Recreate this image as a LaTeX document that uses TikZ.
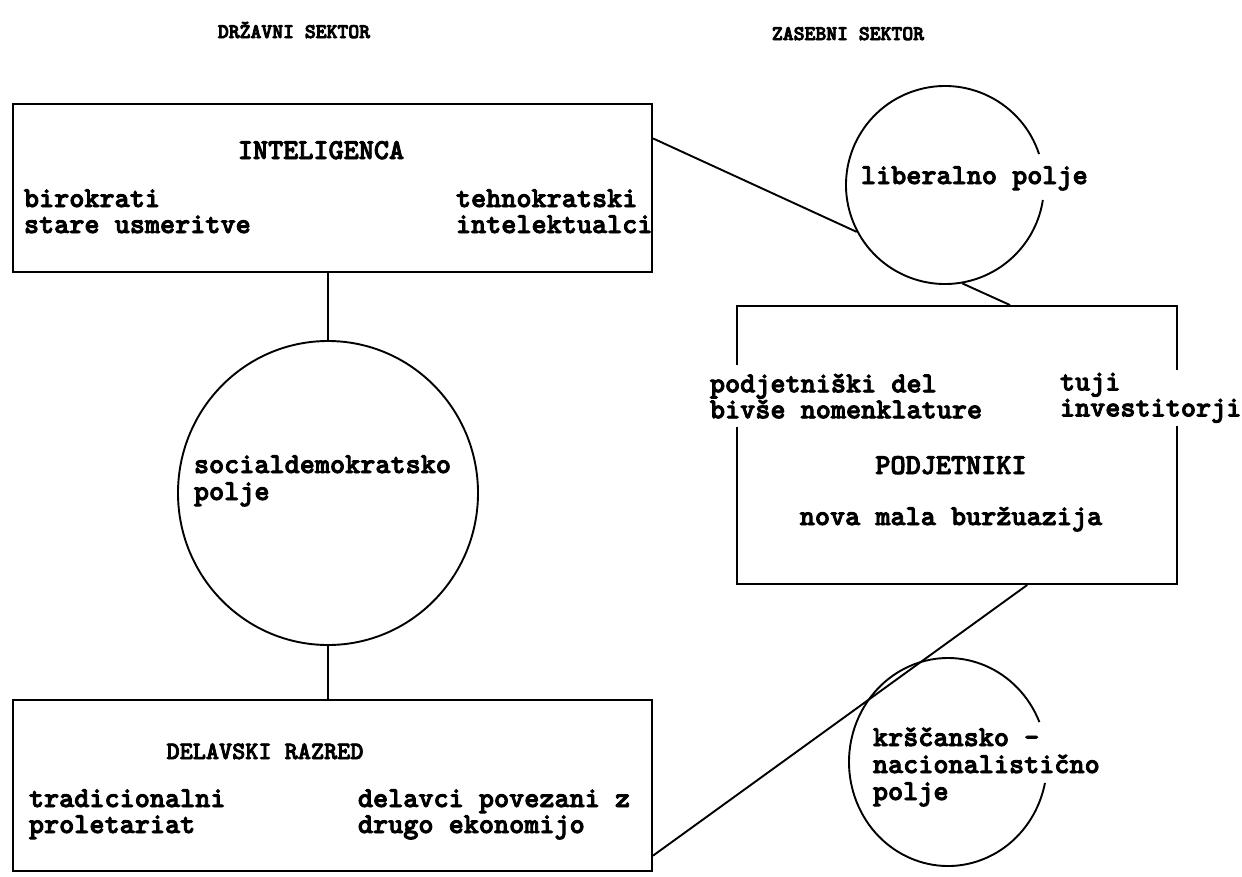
\documentclass[tikz,border=0pt]{standalone}
\usepackage{fontspec}
\newfontfamily\cour{lmmonolt10-bold.otf}[FakeBold=3]
\newfontfamily\courh{lmmonolt10-bold.otf}[FakeBold=4]
\usetikzlibrary{calc,shapes.geometric}
\begin{document}
\begin{tikzpicture}[x=1pt,y=-1pt,line width=1.9pt,
  shapebox/.style={draw,rectangle,inner sep=0pt},
  ring/.style={draw,ellipse,inner sep=0pt},
  txt/.style={inner sep=0pt,font=\cour\fontsize{28.8}{26}\selectfont},
  head/.style={inner sep=0pt,font=\courh\fontsize{20.7}{24}\selectfont},
  gap/.style={txt,fill=white}]
\useasboundingbox (0,0) rectangle (1242,876);
% headings
\node[head,anchor=base] (h1) at (294,38) {DRŽAVNI SEKTOR};
\node[head,anchor=base] (h2) at (848,40) {ZASEBNI SEKTOR};
% shapes
\node[shapebox,minimum width=639pt,minimum height=168pt] (intel) at (332.5,188) {};
\node[ring,minimum width=300pt,minimum height=304pt] (soc) at (328,493) {};
\node[shapebox,minimum width=639pt,minimum height=171pt] (dela) at (332.5,785.5) {};
\node[ring,draw=none,minimum width=198pt,minimum height=198pt] (lib) at (945,185) {};
\draw ([shift={(18.2:99pt and 99pt)}]lib.center) arc[start angle=18.2,end angle=351.3,x radius=99pt,y radius=99pt];
\node[shapebox,minimum width=440pt,minimum height=278pt] (podj) at (957,445) {};
\node[ring,draw=none,minimum width=198pt,minimum height=208pt] (krs) at (948,762) {};
\draw ([shift={(22.6:99pt and 104pt)}]krs.center) arc[start angle=22.6,end angle=348.4,x radius=99pt,y radius=104pt];
% connectors
\draw (soc.north |- intel.south) -- (soc.north);
\draw (soc.south) -- (soc.south |- dela.north);
\draw ($(intel.north east)!0.208!(intel.south east)$) -- (lib.208);
\draw (lib.280) -- ($(podj.north west)!0.62!(podj.north east)$);
\draw ($(podj.south west)!0.659!(podj.south east)$) -- ($(dela.north east)!0.906!(dela.south east)$);
% texts in INTELIGENCA
\node[txt,anchor=base] (t1) at (321,159) {INTELIGENCA};
\node[txt,anchor=base west] (t2) at (23,207) {birokrati};
\node[txt,anchor=base west] (t3) at (23,233) {stare usmeritve};
\node[txt,anchor=base west] (t4) at (455,207) {tehnokratski};
\node[txt,anchor=base west] (t5) at (455,233) {intelektualci};
% socialdemokratsko
\node[txt,anchor=base west] (t6) at (193,473) {socialdemokratsko};
\node[txt,anchor=base west] (t7) at (193,500) {polje};
% delavski razred
\node[txt,anchor=base,font=\cour\fontsize{25}{26}\selectfont] (t8) at (265,759) {DELAVSKI RAZRED};
\node[txt,anchor=base west] (t9) at (28,807) {tradicionalni};
\node[txt,anchor=base west] (t10) at (28,833) {proletariat};
\node[txt,anchor=base west] (t11) at (357,807) {delavci povezani z};
\node[txt,anchor=base west] (t12) at (357,833) {drugo ekonomijo};
% liberalno
\node[txt,anchor=base west] (t13) at (860,184) {liberalno polje};
% podjetniki
\node[gap,anchor=north west,align=left,inner xsep=2pt,inner ysep=9pt] (t14) at (707,364) {podjetniški del\\bivše nomenklature};
\node[gap,anchor=north west,align=left,inner xsep=2pt,inner ysep=3pt] (t15) at (1057,369) {tuji\\investitorji};
\node[txt,anchor=base] (t16) at (951,474) {PODJETNIKI};
\node[txt,anchor=base] (t17) at (951,525) {nova mala buržuazija};
% krscansko
\node[txt,anchor=base west] (t18) at (872,746) {krščansko -};
\node[txt,anchor=base west] (t19) at (872,773) {nacionalistično};
\node[txt,anchor=base west] (t20) at (872,800) {polje};
\end{tikzpicture}
\end{document}
